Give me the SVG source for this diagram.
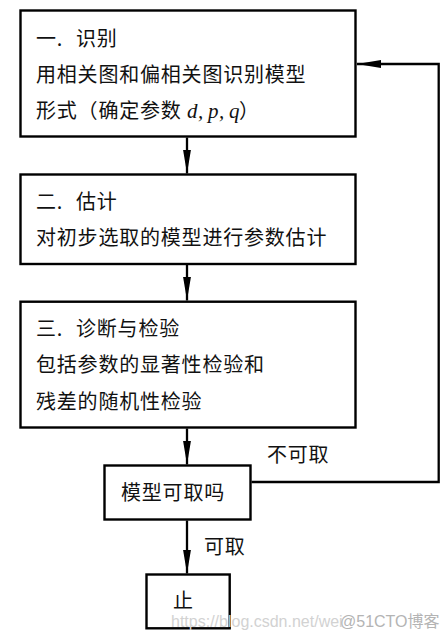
<svg xmlns="http://www.w3.org/2000/svg" width="448" height="638" viewBox="0 0 448 638">
<style>
.box{fill:#fff;stroke:#000;stroke-width:2.4}
.t{font-family:"Noto Sans CJK SC","Noto Sans",sans-serif;font-size:20px;letter-spacing:0.8px;fill:#111}
.m{font-family:"Liberation Serif",serif;font-style:italic;font-size:21px;letter-spacing:0}
.ln{fill:none;stroke:#000;stroke-width:2.3}
.wm{font-family:"Liberation Sans","Noto Sans CJK SC",sans-serif;font-size:16px}
</style>
<defs>
<marker id="ah" markerUnits="userSpaceOnUse" markerWidth="24" markerHeight="10" viewBox="0 0 24 10" refX="24" refY="5" orient="auto">
<path d="M0,1 L24,5 L0,9 Z" fill="#000"/>
</marker>
</defs>
<rect width="448" height="638" fill="#fff"/>
<g id="connectors">
<line class="ln" x1="187" y1="137.5" x2="187" y2="173.5" marker-end="url(#ah)"/>
<line class="ln" x1="187" y1="265" x2="187" y2="300.5" marker-end="url(#ah)"/>
<line class="ln" x1="187" y1="428.5" x2="187" y2="464.5" marker-end="url(#ah)"/>
<line class="ln" x1="187" y1="520.5" x2="187" y2="573.5" marker-end="url(#ah)"/>
<polyline class="ln" points="251.5,482 438.7,482 438.7,64 357,64" marker-end="url(#ah)"/>
<text class="t" x="267" y="461.6">不可取</text>
<text class="t" x="204" y="553.6">可取</text>
</g>
<g id="n1">
<rect class="box" x="20.5" y="10.5" width="335" height="126"/>
<text class="t" x="36" y="45.6">一.<tspan x="76">识别</tspan></text>
<text class="t" x="36" y="81.6">用相关图和偏相关图识别模型</text>
<text class="t" x="36" y="117.6">形式（确定参数<tspan class="m" x="187">d</tspan><tspan class="m" x="198">,</tspan><tspan class="m" x="208">p</tspan><tspan class="m" x="219">,</tspan><tspan class="m" x="229">q</tspan><tspan x="239">）</tspan></text>
</g>
<g id="n2">
<rect class="box" x="20.5" y="174.5" width="335" height="89.5"/>
<text class="t" x="36" y="208.6">二.<tspan x="76">估计</tspan></text>
<text class="t" x="36" y="245">对初步选取的模型进行参数估计</text>
</g>
<g id="n3">
<rect class="box" x="20.5" y="301.7" width="335" height="125.8"/>
<text class="t" x="36" y="336">三.<tspan x="76">诊断与检验</tspan></text>
<text class="t" x="36" y="372">包括参数的显著性检验和</text>
<text class="t" x="36" y="408.8">残差的随机性检验</text>
</g>
<g id="n4">
<rect class="box" x="104.5" y="465.5" width="146" height="54"/>
<text class="t" x="121" y="500.3">模型可取吗</text>
</g>
<g id="n5">
<rect class="box" x="146.5" y="574.5" width="83.2" height="53.8"/>
<text class="t" x="173" y="608">止</text>
</g>
<g id="watermark">
<text class="wm" x="171" y="627" fill="#d2d2d2" font-size="14.6">https://blog.csdn.net/wei</text>
<text class="wm" x="340" y="627" fill="#b4b4b4">@51CTO博客</text>
</g>
</svg>
